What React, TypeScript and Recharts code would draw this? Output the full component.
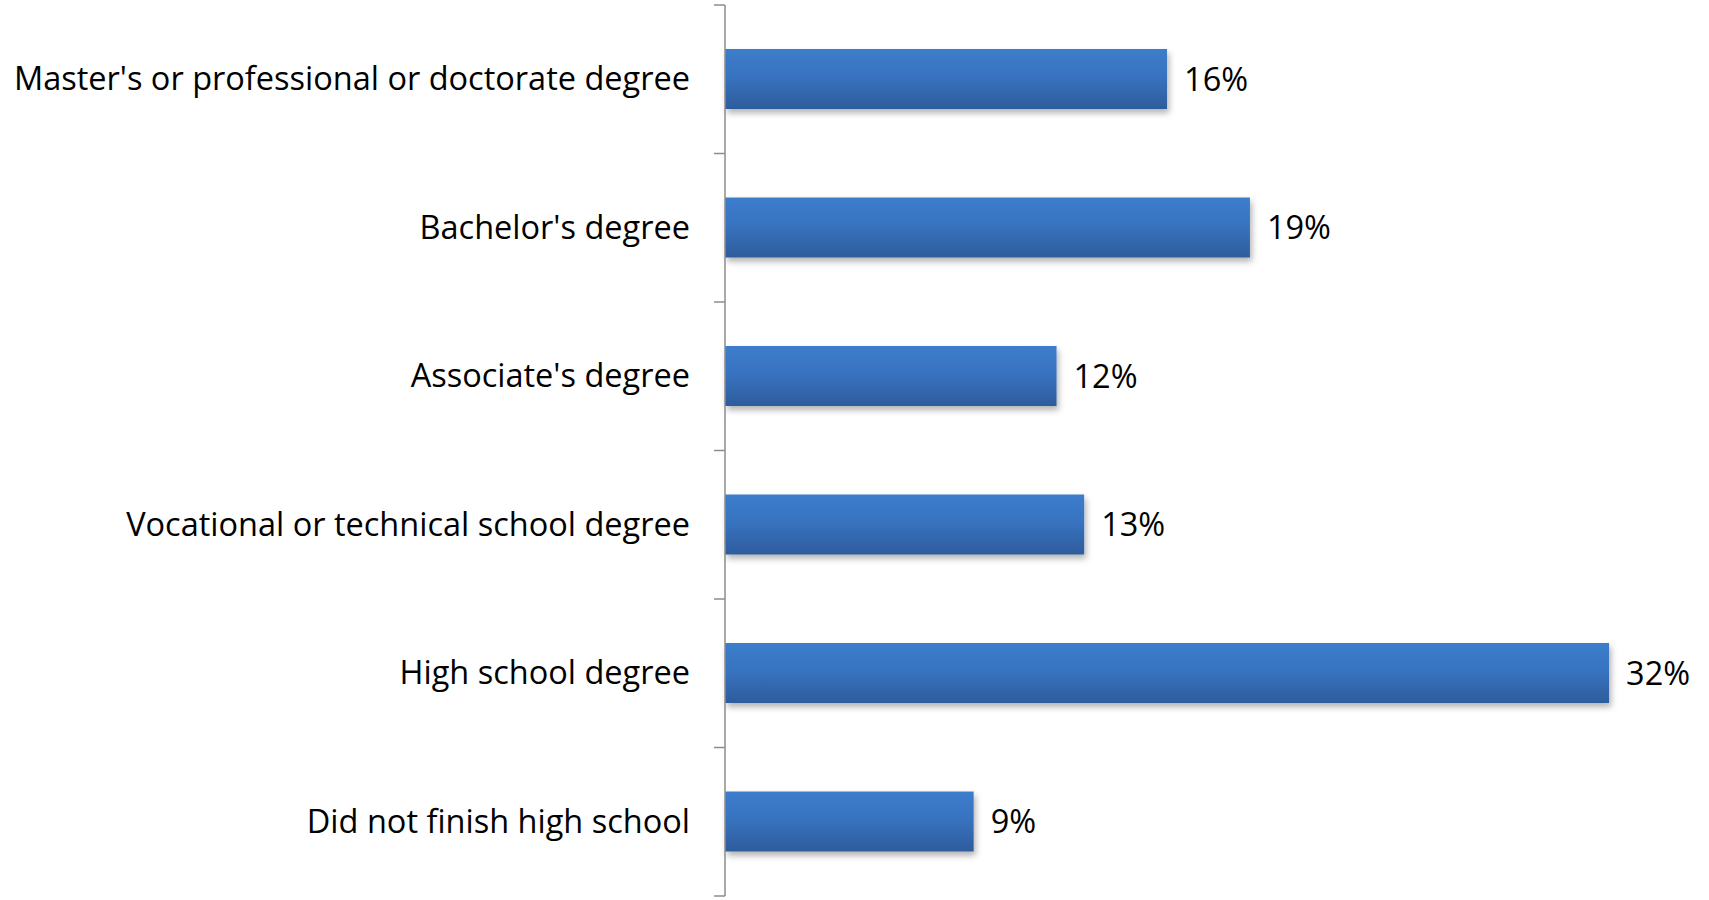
import React from "react";
import { BarChart, Bar, XAxis, YAxis, LabelList } from "recharts";

const categories = [
  "Master's or professional or doctorate degree",
  "Bachelor's degree",
  "Associate's degree",
  "Vocational or technical school degree",
  "High school degree",
  "Did not finish high school",
];
const shares = [0.16, 0.19, 0.12, 0.13, 0.32, 0.09];
const valueLabels = ["16%", "19%", "12%", "13%", "32%", "9%"];

const data = categories.map((c, i) => ({ name: c, value: shares[i], label: valueLabels[i] }));

const W = 1709;
const H = 900;
const MT = 5;
const MB = 4;
const GAP = 35;
const FONT = "'Open Sans', 'Noto Sans', sans-serif";
const FS = 32.5;

const CatTick = (props: any) => {
  const { x, y, payload, index } = props;
  const band = (H - MT - MB) / categories.length;
  const ax = x + GAP;
  return (
    <g>
      <line x1={ax - 11} x2={ax} y1={y - band / 2} y2={y - band / 2} stroke="#8c8c8c" strokeWidth={1.5} />
      {index === categories.length - 1 && (
        <line x1={ax - 11} x2={ax} y1={y + band / 2} y2={y + band / 2} stroke="#8c8c8c" strokeWidth={1.5} />
      )}
      <text x={x} y={y} dy={11} textAnchor="end" fontSize={FS} fontFamily={FONT} fill="#000">
        {payload.value}
      </text>
    </g>
  );
};

export default function App() {
  return (
    <div style={{ position: "absolute", left: 0, top: 0, width: W, height: H, background: "#fff" }}>
      <BarChart
        width={W}
        height={H}
        data={data}
        layout="vertical"
        margin={{ top: MT, right: 17, bottom: MB, left: 0 }}
        barCategoryGap={0}
      >
        <defs>
          <linearGradient id="barGrad" x1="0" y1="0" x2="0" y2="1">
            <stop offset="0%" stopColor="#3c7dcc" />
            <stop offset="45%" stopColor="#3873c0" />
            <stop offset="100%" stopColor="#2e5c9c" />
          </linearGradient>
          <filter id="shadow" x="-5%" y="-20%" width="110%" height="160%">
            <feDropShadow dx="2" dy="4" stdDeviation="3" floodColor="#000" floodOpacity="0.3" />
          </filter>
        </defs>
        <XAxis type="number" domain={[0, 0.35]} hide />
        <YAxis
          type="category"
          dataKey="name"
          width={725}
          axisLine={{ stroke: "#8c8c8c", strokeWidth: 1.5 }}
          tickLine={false}
          tickSize={0}
          tick={<CatTick />}
          tickMargin={GAP}
          interval={0}
        />
        <Bar
          dataKey="value"
          barSize={60}
          fill="url(#barGrad)"
          filter="url(#shadow)"
          isAnimationActive={false}
        >
          <LabelList
            dataKey="label"
            position="right"
            offset={17}
            fontSize={FS}
            fontFamily={FONT}
            fill="#000"
          />
        </Bar>
      </BarChart>
    </div>
  );
}
